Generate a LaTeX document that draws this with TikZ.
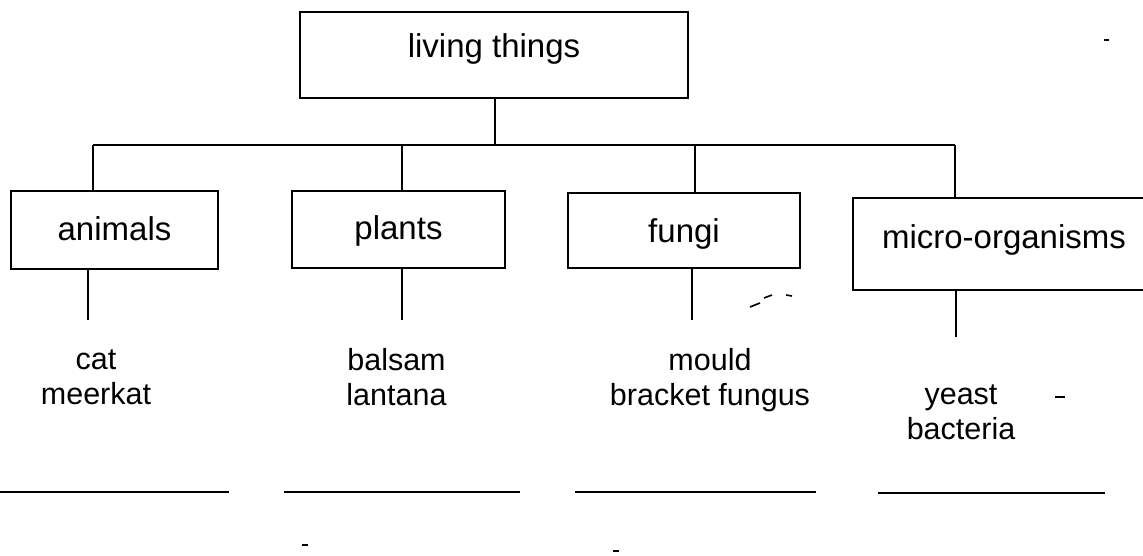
\documentclass[tikz,border=0pt]{standalone}
\usepackage{fontspec}
\setmainfont{Liberation Sans}
\begin{document}
\begin{tikzpicture}[x=1pt,y=-1pt,
  line width=1.6pt,
  catbox/.style={draw, line width=1.6pt, inner sep=0pt, text height=24pt, text depth=3pt, font=\fontsize{33}{38}\selectfont},
  listtext/.style={align=center, inner sep=0pt, text depth=8pt, font=\fontsize{30.5}{35}\selectfont},
  blank/.style={line width=2pt},
  speck/.style={line width=1.6pt}]
\clip (0,0) rectangle (1143,556);
\fill[white] (0,0) rectangle (1143,556);

% boxes
\node[catbox, text depth=19pt, minimum width=388pt, minimum height=86pt] (top) at (494,55) {living things};
\node[catbox, minimum width=207pt, minimum height=78pt] (animals) at (114.5,230) {animals};
\node[catbox, minimum width=213pt, minimum height=77pt] (plants) at (398.5,229.5) {plants};
\node[catbox, text depth=0pt, minimum width=232pt, minimum height=75pt] (fungi) at (684,230.5) {fungi};
\node[catbox, text depth=15pt, minimum width=302pt, minimum height=92pt] (micro) at (1004,244) {micro-organisms};

% bus junctions
\coordinate (jt) at (495,145);
\coordinate (ja) at (93,145);
\coordinate (jp) at (402,145);
\coordinate (jf) at (695,145);
\coordinate (jm) at (955,145);

\draw (top.south -| jt) -- (jt);
\draw (ja) -- (jm);
\draw (ja) -- (ja |- animals.north);
\draw (jp) -- (jp |- plants.north);
\draw (jf) -- (jf |- fungi.north);
\draw (jm) -- (jm |- micro.north);

% lower stems
\coordinate (la) at (88,320);
\coordinate (lp) at (402,320);
\coordinate (lf) at (692,320);
\coordinate (lm) at (956,337);
\draw (animals.south -| la) -- (la);
\draw (plants.south -| lp) -- (lp);
\draw (fungi.south -| lf) -- (lf);
\draw (micro.south -| lm) -- (lm);

% examples
\node[listtext] (ta) at (96,381) {cat\\meerkat};
\node[listtext] (tp) at (396.5,381) {balsam\\lantana};
\node[listtext] (tf) at (710,381) {mould\\bracket fungus};
\node[listtext] (tm) at (961,416) {yeast\\bacteria};

% answer lines
\coordinate (u1a) at (0,492);   \coordinate (u1b) at (229,492);
\coordinate (u2a) at (284,492); \coordinate (u2b) at (520,492);
\coordinate (u3a) at (575,492); \coordinate (u3b) at (816,492);
\coordinate (u4a) at (878,493); \coordinate (u4b) at (1105,493);
\draw[blank] (u1a) -- (u1b);
\draw[blank] (u2a) -- (u2b);
\draw[blank] (u3a) -- (u3b);
\draw[blank] (u4a) -- (u4b);

% small specks of the scan
\coordinate (s1) at (1055,397); \coordinate (s2) at (1065,397);
\draw[speck] (s1) -- (s2);
\coordinate (s3) at (750,307); \coordinate (s4) at (760,303);
\draw[speck] (s3) -- (s4);
\coordinate (s5) at (764,298); \coordinate (s6) at (772,295);
\draw[speck] (s5) -- (s6);
\coordinate (s7) at (786,295); \coordinate (s8) at (792,296);
\draw[speck] (s7) -- (s8);
\coordinate (s9) at (302,545); \coordinate (s10) at (308,545);
\draw[speck] (s9) -- (s10);
\coordinate (s11) at (613,551); \coordinate (s12) at (619,551);
\draw[speck] (s11) -- (s12);
\coordinate (s13) at (1104,40); \coordinate (s14) at (1109,40);
\draw[speck] (s13) -- (s14);
\end{tikzpicture}
\end{document}
